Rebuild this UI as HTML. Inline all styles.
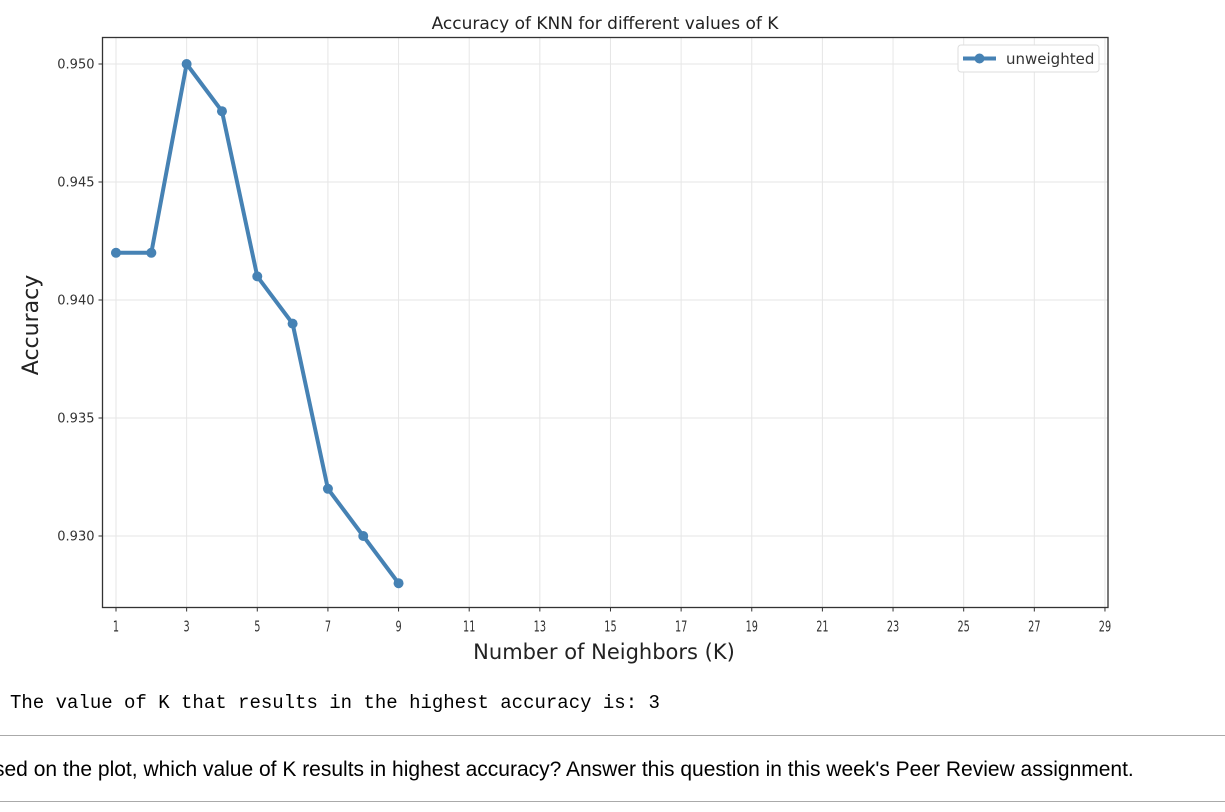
<!DOCTYPE html>
<html><head><meta charset="utf-8"><style>
body{margin:0;background:#fff;width:1225px;height:812px;overflow:hidden;position:relative;font-family:"DejaVu Sans","Liberation Sans",sans-serif}
.out{position:absolute;left:10px;top:692px;font-family:"Liberation Mono",monospace;font-size:19px;color:#000}
.q{position:absolute;left:-6px;top:758px;font-family:"Liberation Sans",sans-serif;font-size:21px;color:#000;white-space:nowrap}
.hr{position:absolute;left:0;width:1225px;height:1px;background:#aaa}
</style></head><body>
<svg id="chart" width="1225" height="690" style="position:absolute;left:0;top:0"></svg>
<div class="out">The value of K that results in the highest accuracy is: 3</div>
<div class="hr" style="top:735px"></div>
<div class="q">sed on the plot, which value of K results in highest accuracy? Answer this question in this week's Peer Review assignment.</div>
<div class="hr" style="top:801px"></div>
<script>
const kValues=[1,2,3,4,5,6,7,8,9];
const accuracy=[0.942,0.942,0.950,0.948,0.941,0.939,0.932,0.930,0.928];
const xTicks=[1,3,5,7,9,11,13,15,17,19,21,23,25,27,29];
const yTicks=[0.930,0.935,0.940,0.945,0.950];
const NS='http://www.w3.org/2000/svg';
const svg=document.getElementById('chart');
const L=102.5,R=1108,T=37.5,B=607.5;
const x=k=>116+(k-1)*35.32;
const y=v=>64+(0.950-v)/0.001*23.6;
function el(t,a,p){const e=document.createElementNS(NS,t);for(const k in a)e.setAttribute(k,a[k]);(p||svg).appendChild(e);return e;}
xTicks.forEach(t=>{
 const g=el('line',{x1:x(t),x2:x(t),y1:T,y2:B,stroke:'#e6e6e6','stroke-width':1});
 
 
 const tk=el('line',{x1:x(t),x2:x(t),y1:B,y2:B+4,stroke:'#333'});
 
 
 const lb=el('text',{x:x(t),y:B+24,'text-anchor':'middle','font-size':15,fill:'#333','font-family':'"DejaVu Sans Condensed","DejaVu Sans",sans-serif',transform:`translate(${x(t)},0) scale(0.72,1) translate(${-x(t)},0)`});
 lb.textContent=t;
 
 
});
yTicks.forEach(t=>{
 const g=el('line',{x1:L,x2:R,y1:y(t),y2:y(t),stroke:'#e6e6e6','stroke-width':1});
 
 
 const tk=el('line',{x1:L-4,x2:L,y1:y(t),y2:y(t),stroke:'#333'});
 
 
 const lb=el('text',{x:L-8,y:y(t)+4.5,'text-anchor':'end','font-size':13,fill:'#333'});
 lb.textContent=t.toFixed(3);
 
 
});
const fr=el('rect',{x:L,y:T,width:R-L,height:B-T,fill:'none',stroke:'#333','stroke-width':1.3});


const line=el('polyline',{points:kValues.map((k,i)=>x(k)+','+y(accuracy[i])).join(' '),fill:'none',stroke:'#4682b4','stroke-width':4,'stroke-linejoin':'round'});


kValues.forEach((k,i)=>{
 const c=el('circle',{cx:x(k),cy:y(accuracy[i]),r:5,fill:'#4682b4'});
 
 
});
const ti=el('text',{x:605,y:29,'text-anchor':'middle','font-size':17,fill:'#222'});
ti.textContent='Accuracy of KNN for different values of K';


const xt=el('text',{x:604,y:659,'text-anchor':'middle','font-size':21,fill:'#222'});
xt.textContent='Number of Neighbors (K)';


const yt=el('text',{x:38,y:325,'text-anchor':'middle','font-size':22,fill:'#222',transform:'rotate(-90 38 325)'});
yt.textContent='Accuracy';


const lg=el('g',{});


el('rect',{x:958,y:45,width:141,height:27,rx:3,fill:'#fff',stroke:'#ddd'},lg);
el('line',{x1:963,x2:996,y1:58.5,y2:58.5,stroke:'#4682b4','stroke-width':4},lg);
el('circle',{cx:979.5,cy:58.5,r:5,fill:'#4682b4'},lg);
const lt=el('text',{x:1006,y:64,'font-size':15,fill:'#333'},lg);
lt.textContent='unweighted';


</script>
</body></html>
